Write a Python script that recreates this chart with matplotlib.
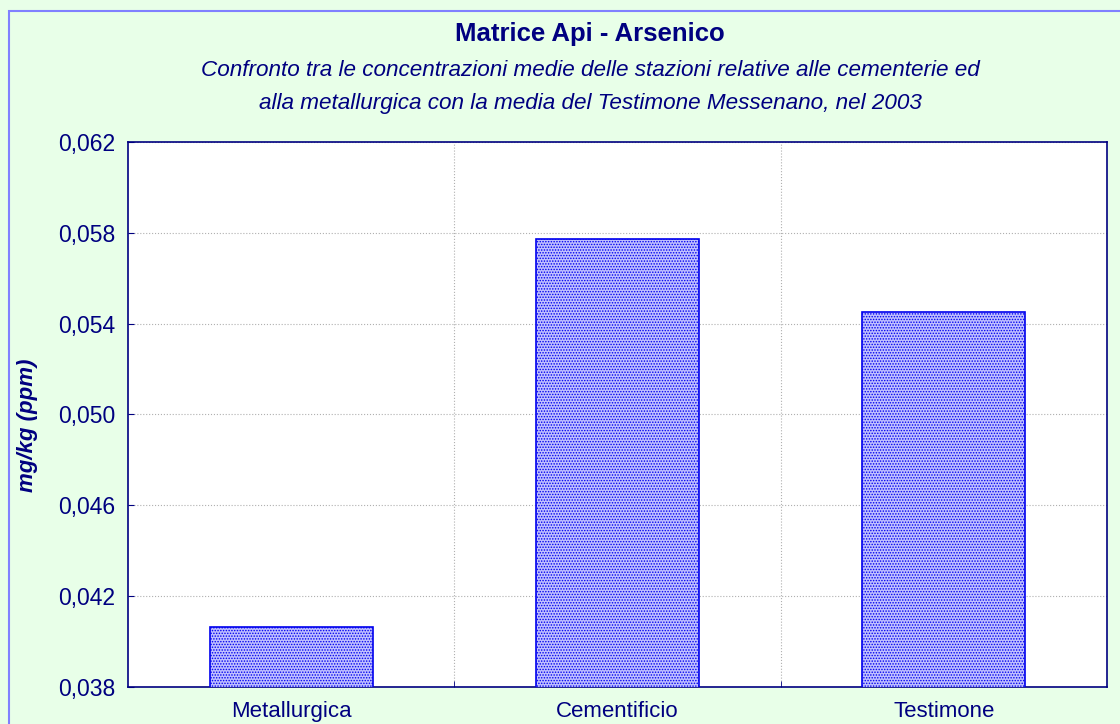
import matplotlib.pyplot as plt
from matplotlib.patches import Rectangle
from matplotlib.ticker import FixedLocator

categories = ["Metallurgica", "Cementificio", "Testimone"]
values = [0.04064, 0.05773, 0.05451]
y_ticks = [0.038, 0.042, 0.046, 0.050, 0.054, 0.058, 0.062]
y_labels = ["0,038", "0,042", "0,046", "0,050", "0,054", "0,058", "0,062"]

navy = "#000080"
plt.rcParams["font.family"] = ["Liberation Sans", "DejaVu Sans"]
plt.rcParams["hatch.color"] = "#2a2aff"
plt.rcParams["hatch.linewidth"] = 0.7

fig = plt.figure(figsize=(11.2, 7.24), dpi=100, facecolor="#e8ffe8")
fig.patches.append(Rectangle((9 / 1120, -0.1), 1.2, 1 - 11 / 724 + 0.1,
                             transform=fig.transFigure, fill=False,
                             edgecolor="#8080ff", linewidth=1.5))

ax = fig.add_axes([128 / 1120, 37 / 724, 979 / 1120, 545 / 724])
x = range(len(categories))
ax.bar(x, values, width=0.5, color="#c0c0ff", edgecolor="#0000ee",
       linewidth=1.2, hatch="......", zorder=3)

ax.set_xlim(-0.5, 2.5)
ax.set_ylim(0.038, 0.062)
ax.set_yticks(y_ticks)
ax.set_yticklabels(y_labels)
ax.set_xticks(list(x))
ax.set_xticklabels(categories)
ax.xaxis.set_minor_locator(FixedLocator([0.5, 1.5]))
ax.tick_params(axis="x", which="major", length=0, labelsize=16,
               labelcolor=navy, pad=10)
ax.tick_params(axis="x", which="minor", length=4, direction="in", color=navy)
ax.tick_params(axis="y", length=4, direction="in", labelsize=16.5,
               labelcolor=navy, color=navy, pad=9)

ax.grid(True, axis="y", which="major", linestyle=":", color="#b0b0b0",
        linewidth=0.8, zorder=0)
ax.grid(True, axis="x", which="minor", linestyle=":", color="#b0b0b0",
        linewidth=0.8, zorder=0)
for s in ax.spines.values():
    s.set_color(navy)
    s.set_linewidth(1.2)

ax.set_ylabel("mg/kg (ppm)", fontsize=16, fontweight="bold",
              fontstyle="italic", color=navy)
ax.yaxis.set_label_coords(-(128 - 38) / 979, (687 - 425) / 545)

cx = 590 / 1120
fig.text(cx, 1 - 34 / 724, "Matrice Api - Arsenico", ha="center",
         va="center", fontsize=18.5, fontweight="bold", color=navy)
fig.text(cx, 1 - 71 / 724,
         "Confronto tra le concentrazioni medie delle stazioni relative alle cementerie ed",
         ha="center", va="center", fontsize=16.2, fontstyle="italic", color=navy)
fig.text(cx, 1 - 104 / 724,
         "alla metallurgica con la media del Testimone Messenano, nel 2003",
         ha="center", va="center", fontsize=16.2, fontstyle="italic", color=navy)

fig.savefig("out.png", dpi=100, facecolor=fig.get_facecolor())
